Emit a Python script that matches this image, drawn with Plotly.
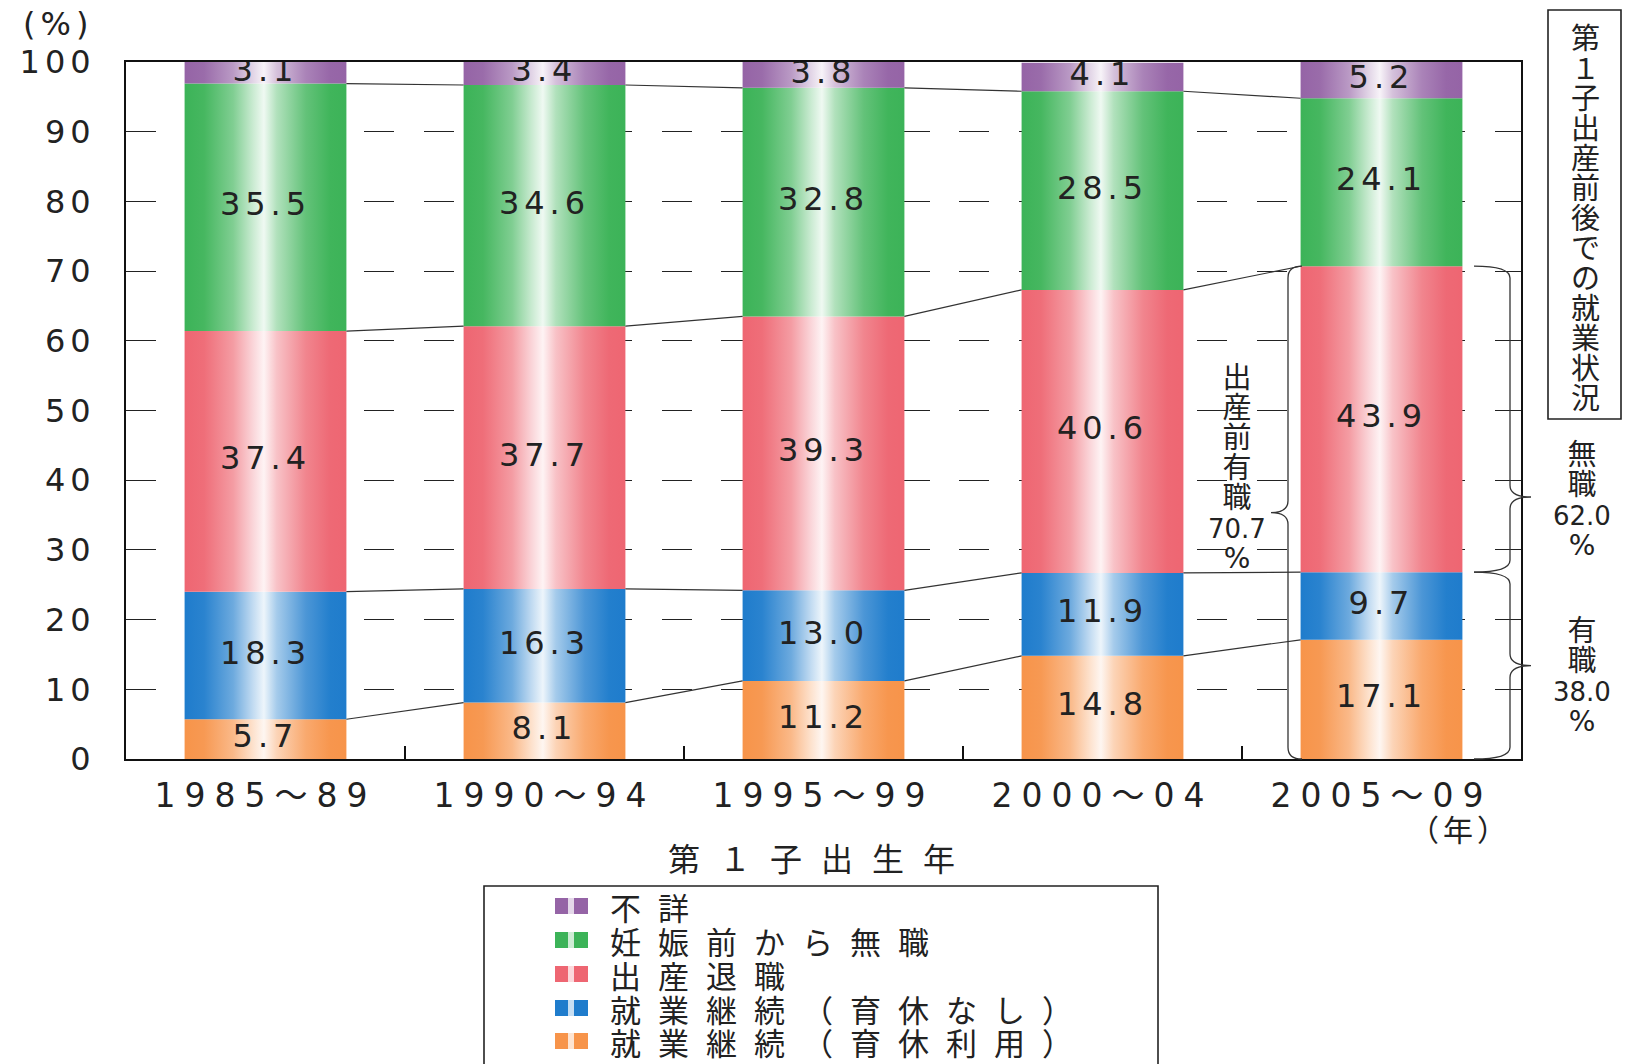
import plotly.graph_objects as go

# ---- data -------------------------------------------------------------
periods = ["1985～89", "1990～94", "1995～99", "2000～04", "2005～09"]

# stacked from the bottom up
ikukyu_riyo = [5.7, 8.1, 11.2, 14.8, 17.1]          # 就業継続（育休利用）
ikukyu_nashi = [18.3, 16.3, 13.0, 11.9, 9.7]         # 就業継続（育休なし）
shussan_taishoku = [37.4, 37.7, 39.3, 40.6, 43.9]    # 出産退職
mushoku_mae = [35.5, 34.6, 32.8, 28.5, 24.1]         # 妊娠前から無職
fusho = [3.1, 3.4, 3.8, 4.1, 5.2]                    # 不詳

y_ticks = [0, 10, 20, 30, 40, 50, 60, 70, 80, 90, 100]

share_mushoku = 62.0   # 出産後 無職 (% of those employed before birth)
share_yushoku = 38.0   # 出産後 有職

series = [
    ("就業継続（育休利用）", ikukyu_riyo, "#f7944a"),
    ("就業継続（育休なし）", ikukyu_nashi, "#1f7ccc"),
    ("出産退職", shussan_taishoku, "#ee6672"),
    ("妊娠前から無職", mushoku_mae, "#3cb358"),
    ("不詳", fusho, "#9564a6"),
]

# ---- geometry helpers --------------------------------------------------
W, H = 1629, 1064
L, T, PW, PH = 126, 62, 1395, 697
R, B = W - L - PW, H - T - PH
BASE_Y = T + PH


def xp(px):
    return (px - L) / PW


def yp(py):
    return (BASE_Y - py) / PH


def spaced(text, px):
    return f'<span style="letter-spacing:{px}px">{text}</span>'


def styled(text, size, family=None):
    css = f"font-size:{size}px"
    if family:
        css += f";font-family:{family}"
    return f'<span style="{css}">{text}</span>'


def mix(hex_color, t):
    """blend colour toward white by t (0..1)"""
    h = hex_color.lstrip("#")
    r, g, b = (int(h[i:i + 2], 16) for i in (0, 2, 4))
    r, g, b = (round(c + (255 - c) * t) for c in (r, g, b))
    return f"rgb({r},{g},{b})"


def cylinder(c):
    return [
        [0.0, mix(c, 0.0)], [0.12, mix(c, 0.05)], [0.3, mix(c, 0.35)],
        [0.42, mix(c, 0.72)], [0.49, mix(c, 0.92)], [0.57, mix(c, 0.6)],
        [0.75, mix(c, 0.2)], [0.9, mix(c, 0.02)], [1.0, mix(c, 0.0)],
    ]


NUM_FONT = "DejaVu Sans, Noto Sans CJK JP"
JP_FONT = "Noto Sans CJK JP, DejaVu Sans"
INK = "#222222"

HALF = 0.29  # half bar width in category units
xs = list(range(len(periods)))

fig = go.Figure()

# ---- stacked bars as gradient-filled polygons --------------------------
bottoms = [0.0] * len(periods)
boundaries = []
label_x, label_y, label_t = [], [], []
for name, vals, col in series:
    for i, v in enumerate(vals):
        b0, b1 = bottoms[i], bottoms[i] + v
        x0, x1 = xs[i] - HALF, xs[i] + HALF
        fig.add_trace(go.Scatter(
            x=[x0, x1, x1, x0, x0], y=[b0, b0, b1, b1, b0],
            mode="lines", line=dict(width=0), fill="toself",
            fillgradient=dict(type="horizontal", colorscale=cylinder(col)),
            hoverinfo="skip", showlegend=False,
        ))
        label_x.append(xs[i])
        label_y.append((b0 + b1) / 2)
        label_t.append(spaced(f"{v:.1f}", 5))
    bottoms = [bottoms[i] + vals[i] for i in range(len(periods))]
    boundaries.append(list(bottoms))

# connector lines between neighbouring bars at each stack boundary
for level in boundaries[:-1]:
    cx, cy = [], []
    for i in range(len(periods) - 1):
        cx += [xs[i] + HALF, xs[i + 1] - HALF, None]
        cy += [level[i], level[i + 1], None]
    fig.add_trace(go.Scatter(x=cx, y=cy, mode="lines",
                             line=dict(color="#333333", width=1.2),
                             hoverinfo="skip", showlegend=False))

# value labels
fig.add_trace(go.Scatter(
    x=label_x, y=label_y, text=label_t, mode="text",
    textposition="middle center",
    textfont=dict(family=NUM_FONT, size=32, color=INK),
    hoverinfo="skip", showlegend=False,
))

# ---- axes ---------------------------------------------------------------
fig.update_xaxes(
    range=[-0.5, len(periods) - 0.5], tickmode="array", tickvals=xs,
    ticktext=[spaced(p, 9) for p in periods], ticks="",
    tickfont=dict(family=NUM_FONT, size=33, color=INK),
    showline=True, linecolor="#111111", linewidth=2, mirror=True,
    showgrid=False, zeroline=False, ticklabelstandoff=6,
    minor=dict(tickmode="array", tickvals=[i + 0.5 for i in xs[:-1]],
               ticks="inside", ticklen=13, tickwidth=1.6, tickcolor="#111111",
               showgrid=False),
)
fig.update_yaxes(
    range=[0, 100], tickmode="array", tickvals=y_ticks,
    ticktext=[spaced(str(v), 5) for v in y_ticks], ticks="",
    tickfont=dict(family=NUM_FONT, size=32, color=INK),
    showline=True, linecolor="#111111", linewidth=2, mirror=True,
    showgrid=True, gridcolor="#222222", gridwidth=1.3, griddash="30px,29.5px",
    zeroline=False, ticklabelstandoff=22,
)

# ---- annotations & decorations -----------------------------------------
ann = []
shapes = []


def text_at(px, py, txt, size, family=JP_FONT, anchor="center"):
    ann.append(dict(x=xp(px), y=yp(py), xref="paper", yref="paper",
                    text=txt, showarrow=False, xanchor=anchor, yanchor="middle",
                    font=dict(family=family, size=size, color=INK)))


def vertical(px, py_center, lines, pitch=30):
    """stacked one-per-line text; line pitch set by the base font size"""
    text_at(px, py_center, "<br>".join(lines), pitch / 1.3)


text_at(58, 24, spaced("(%)", 5), 32, NUM_FONT)
text_at(1460, 828, spaced("（年）", 4), 30)
text_at(821, 857, spaced("第１子出生年", 19), 32)

# vertical boxed title
title_chars = [styled(ch, 29) for ch in "第１子出産前後での就業状況"]
vertical(1585, 216, title_chars)
shapes.append(dict(type="rect", xref="paper", yref="paper",
                   x0=xp(1548), x1=xp(1621), y0=yp(10), y1=yp(419),
                   line=dict(color="#222222", width=1.6)))

# employed-before-birth total for the latest cohort
pre_employed = ikukyu_riyo[-1] + ikukyu_nashi[-1] + shussan_taishoku[-1]
still_employed = ikukyu_riyo[-1] + ikukyu_nashi[-1]

num_family = "DejaVu Sans"
vertical(1237, 464,
         [styled(ch, 29) for ch in "出産前有職"]
         + [styled(f"{pre_employed:.1f}", 26, num_family), styled("%", 28, num_family)])
vertical(1582, 496,
         [styled(ch, 29) for ch in "無職"]
         + [styled(f"{share_mushoku:.1f}", 26, num_family), styled("%", 28, num_family)])
vertical(1582, 672,
         [styled(ch, 29) for ch in "有職"]
         + [styled(f"{share_yushoku:.1f}", 26, num_family), styled("%", 28, num_family)])


def brace(x_end, x_line, x_tip, y_top, y_bot, y_tip, dy=0.017):
    return (f"M {x_end},{y_top} Q {x_line},{y_top} {x_line},{y_top - dy} "
            f"L {x_line},{y_tip + dy} Q {x_line},{y_tip} {x_tip},{y_tip} "
            f"Q {x_line},{y_tip} {x_line},{y_tip - dy} "
            f"L {x_line},{y_bot + dy} Q {x_line},{y_bot} {x_end},{y_bot}")


brace_line = dict(color="#333333", width=1.3)
top_p, mid_p = pre_employed / 100, still_employed / 100
shapes.append(dict(type="path", xref="paper", yref="paper", line=brace_line,
                   path=brace(xp(1302), xp(1288), xp(1271), top_p, 0, top_p / 2)))
shapes.append(dict(type="path", xref="paper", yref="paper", line=brace_line,
                   path=brace(xp(1474), xp(1510), xp(1531), top_p, mid_p, yp(497))))
shapes.append(dict(type="path", xref="paper", yref="paper", line=brace_line,
                   path=brace(xp(1474), xp(1510), xp(1531), mid_p, 0, mid_p / 2)))

# legend panel (runs off the lower edge)
shapes.append(dict(type="rect", xref="paper", yref="paper",
                   x0=xp(484), x1=xp(1158), y0=yp(1090), y1=yp(886),
                   line=dict(color="#222222", width=1.6)))
legend_rows = [906, 940, 974, 1008, 1041]
for (name, _, col), py in zip(reversed(series), legend_rows):
    shapes.append(dict(type="rect", xref="paper", yref="paper",
                       x0=xp(555), x1=xp(588), y0=yp(py + 8), y1=yp(py - 8),
                       line=dict(width=0), fillcolor=col))
    shapes.append(dict(type="rect", xref="paper", yref="paper",
                       x0=xp(568), x1=xp(574), y0=yp(py + 8), y1=yp(py - 8),
                       line=dict(width=0), fillcolor=mix(col, 0.75)))
    text_at(608, py, spaced(name, 17), 31, anchor="left")

fig.update_layout(
    width=W, height=H, autosize=False,
    margin=dict(l=L, r=R, t=T, b=B, pad=0),
    paper_bgcolor="white", plot_bgcolor="white",
    showlegend=False, annotations=ann, shapes=shapes,
)

fig.write_html("out.html")
